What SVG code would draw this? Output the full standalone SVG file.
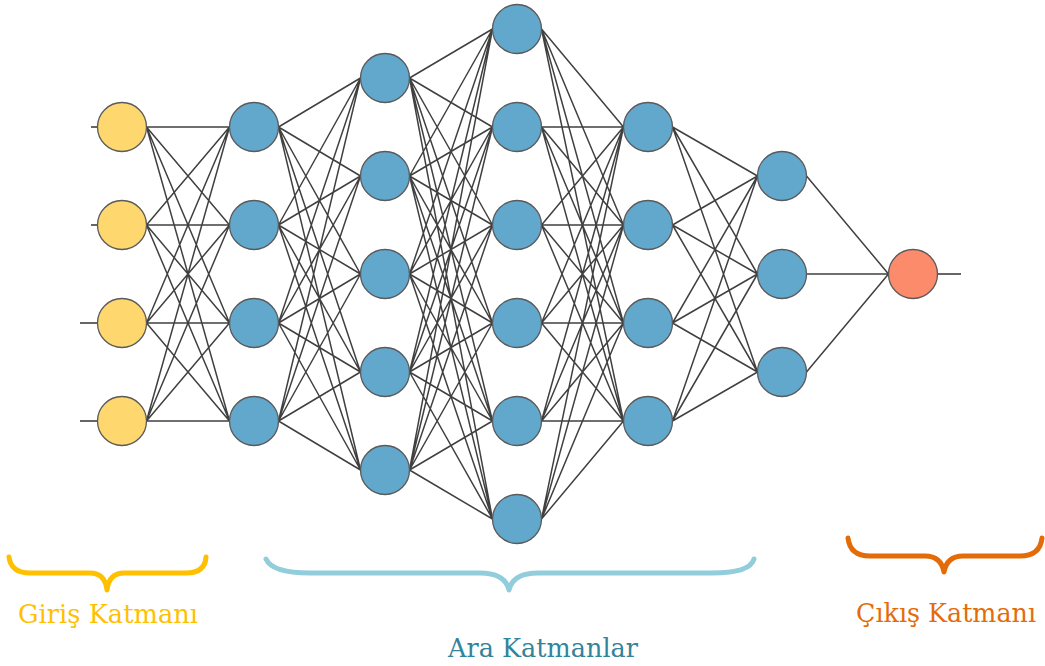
<svg xmlns="http://www.w3.org/2000/svg" width="1045" height="666" viewBox="0 0 1045 666">
  <style>
    .edge { fill: none; stroke: #404040; stroke-width: 1.5; }
    .stub { fill: none; stroke: #666; stroke-width: 1.8; }
    .node { stroke: #5a5a5a; stroke-width: 1.3; }
    .in { fill: #fed86e; }
    .hid { fill: #62a8cd; }
    .out { fill: #fc8b6c; }
    .brace { fill: none; stroke-width: 5; stroke-linecap: round; stroke-linejoin: round; }
    text { font-family: 'DejaVu Serif', 'Liberation Serif', serif; font-size: 26px; text-anchor: middle; }
  </style>

  <!-- weighted connections between consecutive layers -->
  <g id="connectors">
    <path class="stub" d="M91 127H98 M91 225H98 M80 323H98 M80 421H98 M937 274H961"/>
    <!-- layer 1 -> layer 2 -->
    <path class="edge" d="
      M146.5 127L229.5 127 M146.5 127L229.5 225 M146.5 127L229.5 323 M146.5 127L229.5 421
      M146.5 225L229.5 127 M146.5 225L229.5 225 M146.5 225L229.5 323 M146.5 225L229.5 421
      M146.5 323L229.5 127 M146.5 323L229.5 225 M146.5 323L229.5 323 M146.5 323L229.5 421
      M146.5 421L229.5 127 M146.5 421L229.5 225 M146.5 421L229.5 323 M146.5 421L229.5 421"/>
    <!-- layer 2 -> layer 3 -->
    <path class="edge" d="
      M278.5 127L360.5 78 M278.5 127L360.5 176 M278.5 127L360.5 274 M278.5 127L360.5 372 M278.5 127L360.5 470
      M278.5 225L360.5 78 M278.5 225L360.5 176 M278.5 225L360.5 274 M278.5 225L360.5 372 M278.5 225L360.5 470
      M278.5 323L360.5 78 M278.5 323L360.5 176 M278.5 323L360.5 274 M278.5 323L360.5 372 M278.5 323L360.5 470
      M278.5 421L360.5 78 M278.5 421L360.5 176 M278.5 421L360.5 274 M278.5 421L360.5 372 M278.5 421L360.5 470"/>
    <!-- layer 3 -> layer 4 -->
    <path class="edge" d="
      M409.5 78L492.5 29 M409.5 78L492.5 127 M409.5 78L492.5 225 M409.5 78L492.5 323 M409.5 78L492.5 421 M409.5 78L492.5 519
      M409.5 176L492.5 29 M409.5 176L492.5 127 M409.5 176L492.5 225 M409.5 176L492.5 323 M409.5 176L492.5 421 M409.5 176L492.5 519
      M409.5 274L492.5 29 M409.5 274L492.5 127 M409.5 274L492.5 225 M409.5 274L492.5 323 M409.5 274L492.5 421 M409.5 274L492.5 519
      M409.5 372L492.5 29 M409.5 372L492.5 127 M409.5 372L492.5 225 M409.5 372L492.5 323 M409.5 372L492.5 421 M409.5 372L492.5 519
      M409.5 470L492.5 29 M409.5 470L492.5 127 M409.5 470L492.5 225 M409.5 470L492.5 323 M409.5 470L492.5 421 M409.5 470L492.5 519"/>
    <!-- layer 4 -> layer 5 -->
    <path class="edge" d="
      M541.5 29L623.5 127 M541.5 29L623.5 225 M541.5 29L623.5 323 M541.5 29L623.5 421
      M541.5 127L623.5 127 M541.5 127L623.5 225 M541.5 127L623.5 323 M541.5 127L623.5 421
      M541.5 225L623.5 127 M541.5 225L623.5 225 M541.5 225L623.5 323 M541.5 225L623.5 421
      M541.5 323L623.5 127 M541.5 323L623.5 225 M541.5 323L623.5 323 M541.5 323L623.5 421
      M541.5 421L623.5 127 M541.5 421L623.5 225 M541.5 421L623.5 323 M541.5 421L623.5 421
      M541.5 519L623.5 127 M541.5 519L623.5 225 M541.5 519L623.5 323 M541.5 519L623.5 421"/>
    <!-- layer 5 -> layer 6 -->
    <path class="edge" d="
      M672.5 127L757.5 176 M672.5 127L757.5 274 M672.5 127L757.5 372
      M672.5 225L757.5 176 M672.5 225L757.5 274 M672.5 225L757.5 372
      M672.5 323L757.5 176 M672.5 323L757.5 274 M672.5 323L757.5 372
      M672.5 421L757.5 176 M672.5 421L757.5 274 M672.5 421L757.5 372"/>
    <!-- layer 6 -> output -->
    <path class="edge" d="M806.5 176L888.5 274 M806.5 274L888.5 274 M806.5 372L888.5 274"/>
  </g>

  <!-- input layer -->
  <g id="input-layer">
    <circle id="in1" class="node in" cx="122" cy="127" r="24.5"/>
    <circle id="in2" class="node in" cx="122" cy="225" r="24.5"/>
    <circle id="in3" class="node in" cx="122" cy="323" r="24.5"/>
    <circle id="in4" class="node in" cx="122" cy="421" r="24.5"/>
  </g>

  <!-- hidden layers -->
  <g id="hidden-1">
    <circle class="node hid" cx="254" cy="127" r="24.5"/>
    <circle class="node hid" cx="254" cy="225" r="24.5"/>
    <circle class="node hid" cx="254" cy="323" r="24.5"/>
    <circle class="node hid" cx="254" cy="421" r="24.5"/>
  </g>
  <g id="hidden-2">
    <circle class="node hid" cx="385" cy="78" r="24.5"/>
    <circle class="node hid" cx="385" cy="176" r="24.5"/>
    <circle class="node hid" cx="385" cy="274" r="24.5"/>
    <circle class="node hid" cx="385" cy="372" r="24.5"/>
    <circle class="node hid" cx="385" cy="470" r="24.5"/>
  </g>
  <g id="hidden-3">
    <circle class="node hid" cx="517" cy="29" r="24.5"/>
    <circle class="node hid" cx="517" cy="127" r="24.5"/>
    <circle class="node hid" cx="517" cy="225" r="24.5"/>
    <circle class="node hid" cx="517" cy="323" r="24.5"/>
    <circle class="node hid" cx="517" cy="421" r="24.5"/>
    <circle class="node hid" cx="517" cy="519" r="24.5"/>
  </g>
  <g id="hidden-4">
    <circle class="node hid" cx="648" cy="127" r="24.5"/>
    <circle class="node hid" cx="648" cy="225" r="24.5"/>
    <circle class="node hid" cx="648" cy="323" r="24.5"/>
    <circle class="node hid" cx="648" cy="421" r="24.5"/>
  </g>
  <g id="hidden-5">
    <circle class="node hid" cx="782" cy="176" r="24.5"/>
    <circle class="node hid" cx="782" cy="274" r="24.5"/>
    <circle class="node hid" cx="782" cy="372" r="24.5"/>
  </g>

  <!-- output layer -->
  <g id="output-layer">
    <circle id="out1" class="node out" cx="913" cy="274" r="24.5"/>
  </g>

  <!-- layer captions with braces -->
  <g id="input-caption">
    <path class="brace" stroke="#ffc000" d="M9 557Q11 573 30 573H90Q105 573 107 590Q109 573 124 573H186Q205 573 206 557"/>
    <text x="108" y="623" fill="#ffc000" textLength="180" lengthAdjust="spacingAndGlyphs">Giriş Katmanı</text>
  </g>
  <g id="hidden-caption">
    <path class="brace" stroke="#92cddc" d="M266 559Q272 573 310 573H480Q505 573 509 590Q513 573 538 573H712Q750 573 754 559"/>
    <text x="543" y="657" fill="#31849b" textLength="190" lengthAdjust="spacingAndGlyphs">Ara Katmanlar</text>
  </g>
  <g id="output-caption">
    <path class="brace" stroke="#e36c09" d="M848 538Q850 556 870 556H925Q941 556 944 572Q947 556 963 556H1020Q1040 556 1042 538"/>
    <text x="946" y="622" fill="#e36c09" textLength="180" lengthAdjust="spacingAndGlyphs">Çıkış Katmanı</text>
  </g>
</svg>
